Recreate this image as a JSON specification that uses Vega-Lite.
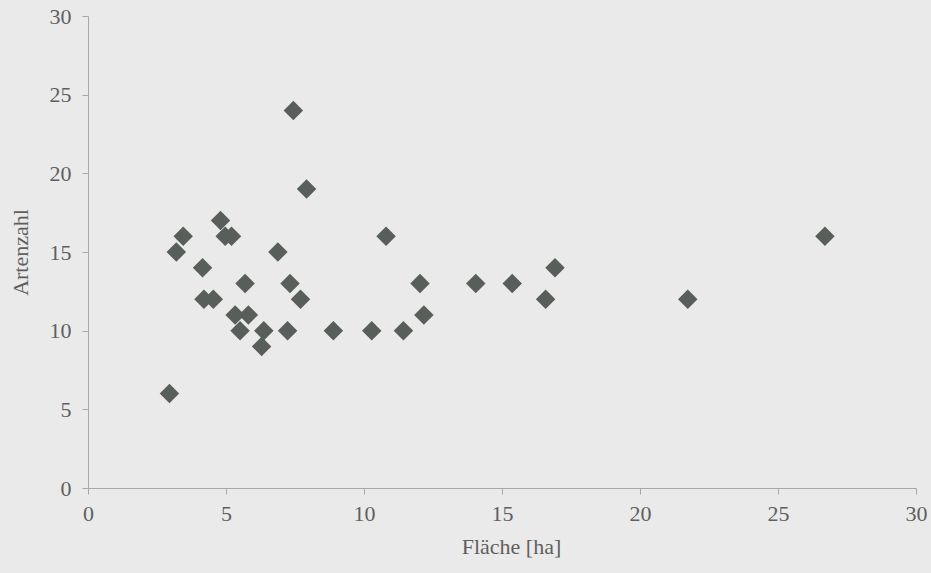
{
  "$schema": "https://vega.github.io/schema/vega-lite/v6.json",
  "width": 828,
  "height": 472,
  "autosize": "none",
  "padding": {"left": 88, "top": 16, "right": 15, "bottom": 85},
  "background": "#eaeaea",
  "config": {
    "view": {"stroke": null},
    "font": "Liberation Serif",
    "axis": {
      "domainColor": "#a8a8a8",
      "tickColor": "#a8a8a8",
      "tickSize": 6,
      "grid": false,
      "labelFlush": false,
      "labelFont": "Liberation Serif",
      "labelFontSize": 22,
      "labelColor": "#5f5f5f",
      "titleFont": "Liberation Serif",
      "titleFontSize": 22,
      "titleFontWeight": "normal",
      "titleColor": "#5f5f5f"
    }
  },
  "data": {
    "values": [
      {"flaeche": 2.95, "arten": 6},
      {"flaeche": 3.2, "arten": 15},
      {"flaeche": 3.45, "arten": 16},
      {"flaeche": 4.15, "arten": 14},
      {"flaeche": 4.2, "arten": 12},
      {"flaeche": 4.54, "arten": 12},
      {"flaeche": 4.8, "arten": 17},
      {"flaeche": 4.97, "arten": 16},
      {"flaeche": 5.2, "arten": 16},
      {"flaeche": 5.33, "arten": 11},
      {"flaeche": 5.51, "arten": 10},
      {"flaeche": 5.69, "arten": 13},
      {"flaeche": 5.81, "arten": 11},
      {"flaeche": 6.29, "arten": 9},
      {"flaeche": 6.37, "arten": 10},
      {"flaeche": 6.88, "arten": 15},
      {"flaeche": 7.23, "arten": 10},
      {"flaeche": 7.32, "arten": 13},
      {"flaeche": 7.44, "arten": 24},
      {"flaeche": 7.7, "arten": 12},
      {"flaeche": 7.92, "arten": 19},
      {"flaeche": 8.89, "arten": 10},
      {"flaeche": 10.28, "arten": 10},
      {"flaeche": 10.8, "arten": 16},
      {"flaeche": 11.43, "arten": 10},
      {"flaeche": 12.03, "arten": 13},
      {"flaeche": 12.17, "arten": 11},
      {"flaeche": 14.05, "arten": 13},
      {"flaeche": 15.37, "arten": 13},
      {"flaeche": 16.58, "arten": 12},
      {"flaeche": 16.92, "arten": 14},
      {"flaeche": 21.73, "arten": 12},
      {"flaeche": 26.7, "arten": 16}
    ]
  },
  "mark": {"type": "point", "shape": "diamond", "filled": true, "size": 380, "color": "#585e59", "opacity": 1},
  "encoding": {
    "x": {
      "field": "flaeche",
      "type": "quantitative",
      "title": "Fläche [ha]",
      "scale": {"domain": [0, 30], "nice": false, "zero": true},
      "axis": {"values": [0, 5, 10, 15, 20, 25, 30], "labelPadding": 9, "titlePadding": 12, "titleX": 423}
    },
    "y": {
      "field": "arten",
      "type": "quantitative",
      "title": "Artenzahl",
      "scale": {"domain": [0, 30], "nice": false},
      "axis": {"values": [0, 5, 10, 15, 20, 25, 30], "labelPadding": 11, "titlePadding": 17}
    }
  }
}
